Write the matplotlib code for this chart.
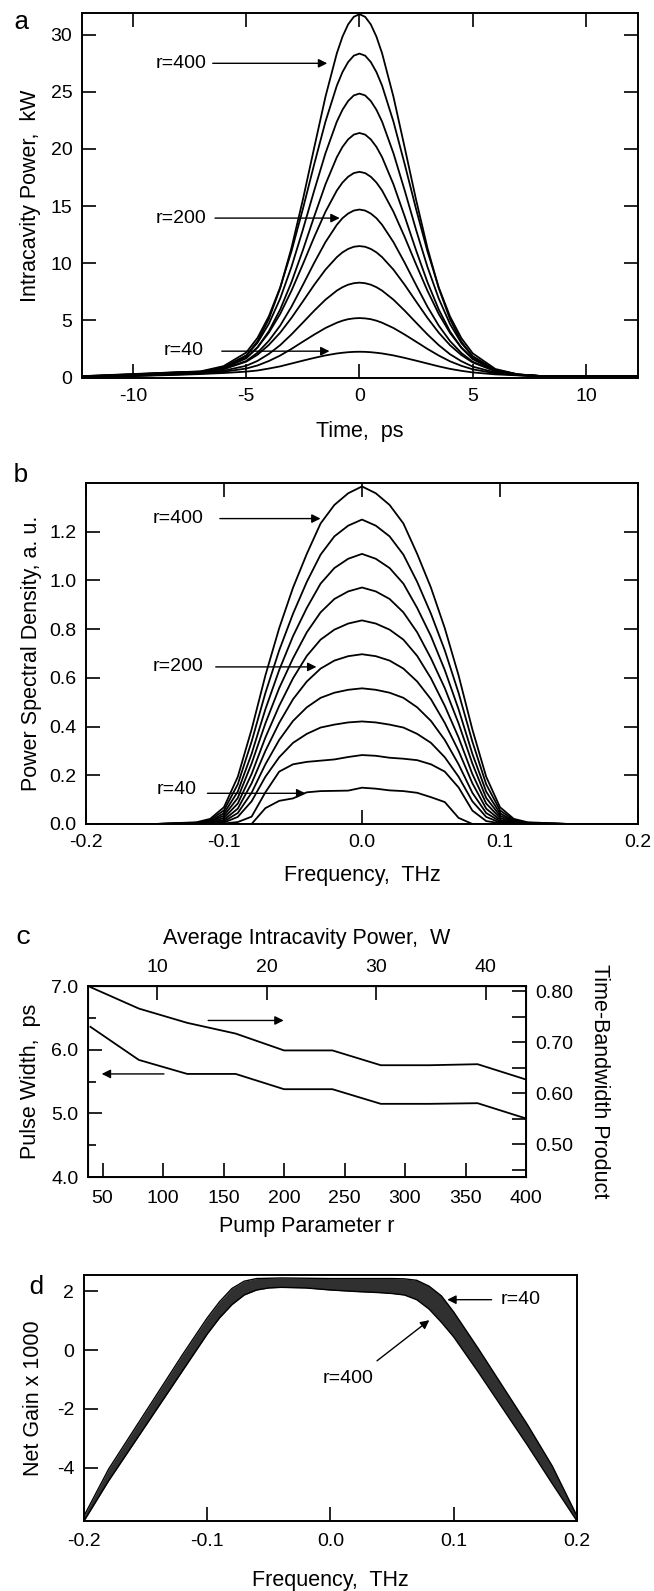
import numpy as np
import matplotlib
matplotlib.use("Agg")
import matplotlib.pyplot as plt

plt.rcParams['font.family'] = ['Liberation Sans', 'DejaVu Sans']
plt.rcParams['font.size'] = 14
plt.rcParams['axes.labelsize'] = 15.5
plt.rcParams['axes.unicode_minus'] = False

# ---------------- panel a: intracavity power vs time ----------------
time_ps = [-12.3, -10, -8, -7, -6, -5, -4.5, -4, -3.5, -3, -2.5, -2, -1.5, -1, -0.75, -0.5, -0.25, 0,
           0.25, 0.5, 0.75, 1, 1.5, 2, 2.5, 3, 3.5, 4, 4.5, 5, 6, 7, 8, 10, 12.3]
power_r40 = [0.02, 0.12, 0.23, 0.30, 0.39, 0.51, 0.61, 0.78, 0.97, 1.22, 1.47, 1.71, 1.93, 2.10, 2.16, 2.21, 2.24, 2.25,
             2.24, 2.21, 2.16, 2.10, 1.93, 1.71, 1.47, 1.22, 0.97, 0.75, 0.58, 0.44, 0.27, 0.18, 0.12, 0.10, 0.08]
power_r80 = [0.03, 0.14, 0.27, 0.35, 0.50, 0.78, 1.05, 1.44, 1.92, 2.50, 3.13, 3.75, 4.33, 4.79, 4.97, 5.10, 5.17, 5.20,
             5.17, 5.10, 4.97, 4.79, 4.33, 3.75, 3.13, 2.50, 1.92, 1.41, 1.02, 0.71, 0.36, 0.20, 0.12, 0.10, 0.08]
power_r120 = [0.04, 0.16, 0.31, 0.38, 0.59, 1.02, 1.45, 2.06, 2.83, 3.77, 4.80, 5.84, 6.81, 7.60, 7.90, 8.12, 8.25, 8.30,
              8.25, 8.12, 7.90, 7.60, 6.81, 5.84, 4.80, 3.77, 2.83, 2.03, 1.42, 0.95, 0.43, 0.21, 0.12, 0.11, 0.09]
power_r160 = [0.05, 0.18, 0.34, 0.44, 0.73, 1.38, 1.99, 2.85, 3.92, 5.22, 6.65, 8.10, 9.44, 10.53, 10.95, 11.25, 11.44, 11.50,
              11.44, 11.25, 10.95, 10.53, 9.44, 8.10, 6.65, 5.22, 3.92, 2.82, 1.96, 1.31, 0.56, 0.26, 0.13, 0.11, 0.09]
power_r200 = [0.06, 0.20, 0.36, 0.44, 0.74, 1.44, 2.17, 3.21, 4.54, 6.20, 8.09, 10.03, 11.85, 13.36, 13.94, 14.35, 14.61, 14.70,
              14.61, 14.35, 13.94, 13.36, 11.85, 10.03, 8.09, 6.20, 4.54, 3.18, 2.14, 1.37, 0.55, 0.235, 0.12, 0.12, 0.10]
power_r240 = [0.07, 0.22, 0.40, 0.49, 0.86, 1.74, 2.64, 3.92, 5.56, 7.60, 9.90, 12.28, 14.51, 16.36, 17.06, 17.57, 17.89, 18.00,
              17.89, 17.57, 17.06, 16.36, 14.51, 12.28, 9.90, 7.60, 5.56, 3.89, 2.61, 1.67, 0.66, 0.265, 0.13, 0.12, 0.10]
power_r280 = [0.08, 0.24, 0.41, 0.47, 0.80, 1.67, 2.63, 4.05, 5.95, 8.35, 11.13, 14.08, 16.91, 19.28, 20.18, 20.84, 21.26, 21.40,
              21.26, 20.84, 20.18, 19.28, 16.91, 14.08, 11.13, 8.35, 5.95, 4.02, 2.60, 1.60, 0.58, 0.23, 0.12, 0.12, 0.10]
power_r320 = [0.09, 0.26, 0.43, 0.50, 0.89, 1.92, 3.04, 4.70, 6.91, 9.69, 12.92, 16.35, 19.63, 22.39, 23.43, 24.20, 24.69, 24.85,
              24.69, 24.20, 23.43, 22.39, 19.63, 16.35, 12.92, 9.69, 6.91, 4.67, 3.01, 1.85, 0.66, 0.25, 0.12, 0.13, 0.11]
power_r360 = [0.10, 0.28, 0.45, 0.54, 0.99, 2.18, 3.47, 5.36, 7.88, 11.06, 14.74, 18.65, 22.40, 25.54, 26.73, 27.61, 28.17, 28.35,
              28.17, 27.61, 26.73, 25.54, 22.40, 18.65, 14.74, 11.06, 7.88, 5.33, 3.44, 2.11, 0.74, 0.27, 0.12, 0.13, 0.11]
power_r400 = [0.11, 0.30, 0.46, 0.50, 0.86, 1.91, 3.17, 5.12, 7.82, 11.35, 15.55, 20.10, 24.58, 28.37, 29.83, 30.91, 31.57, 31.80,
              31.57, 30.91, 29.83, 28.37, 24.58, 20.10, 15.55, 11.35, 7.82, 5.09, 3.14, 1.84, 0.59, 0.21, 0.11, 0.13, 0.11]

# ---------------- panel b: power spectral density ----------------
freq_b = [-0.2, -0.15, -0.12, -0.11, -0.1, -0.09, -0.08, -0.07, -0.06, -0.05, -0.04, -0.03, -0.02, -0.01, 0,
          0.01, 0.02, 0.03, 0.04, 0.05, 0.06, 0.07, 0.08, 0.09, 0.1, 0.11, 0.12, 0.15, 0.2]
psd_r40 = [0, 0, 0, 0, 0, 0, 0.0, 0.065, 0.095, 0.105, 0.13, 0.135, 0.136, 0.137, 0.149,
           0.145, 0.138, 0.135, 0.128, 0.11, 0.09, 0.025, 0.0, 0, 0, 0, 0, 0, 0]
psd_r80 = [0, 0, 0, 0, 0.002, 0.008, 0.03, 0.13, 0.215, 0.245, 0.255, 0.26, 0.265, 0.275, 0.283,
           0.28, 0.272, 0.268, 0.262, 0.245, 0.215, 0.15, 0.055, 0.012, 0.003, 0, 0, 0, 0]
psd_r120 = [0, 0, 0, 0.001, 0.006, 0.029, 0.093, 0.194, 0.274, 0.333, 0.370, 0.396, 0.408, 0.417, 0.421,
            0.417, 0.408, 0.396, 0.370, 0.333, 0.274, 0.194, 0.093, 0.029, 0.006, 0.001, 0, 0, 0]
psd_r160 = [0, 0, 0, 0.002, 0.011, 0.045, 0.128, 0.245, 0.345, 0.423, 0.479, 0.518, 0.539, 0.551, 0.557,
            0.551, 0.539, 0.518, 0.479, 0.423, 0.345, 0.245, 0.128, 0.045, 0.011, 0.002, 0, 0, 0]
psd_r200 = [0, 0, 0.001, 0.004, 0.017, 0.063, 0.167, 0.300, 0.415, 0.512, 0.585, 0.638, 0.671, 0.689, 0.697,
            0.689, 0.671, 0.638, 0.585, 0.512, 0.415, 0.300, 0.167, 0.063, 0.017, 0.004, 0.001, 0, 0]
psd_r240 = [0, 0, 0.002, 0.007, 0.025, 0.084, 0.205, 0.355, 0.485, 0.598, 0.690, 0.757, 0.798, 0.823, 0.836,
            0.823, 0.798, 0.757, 0.690, 0.598, 0.485, 0.355, 0.205, 0.084, 0.025, 0.007, 0.002, 0, 0]
psd_r280 = [0, 0, 0.003, 0.010, 0.034, 0.107, 0.248, 0.413, 0.558, 0.680, 0.787, 0.869, 0.924, 0.955, 0.971,
            0.955, 0.924, 0.869, 0.787, 0.680, 0.558, 0.413, 0.248, 0.107, 0.034, 0.010, 0.003, 0, 0]
psd_r320 = [0, 0, 0.003, 0.012, 0.044, 0.133, 0.288, 0.471, 0.632, 0.771, 0.887, 0.987, 1.051, 1.089, 1.109,
            1.089, 1.051, 0.987, 0.887, 0.771, 0.632, 0.471, 0.288, 0.133, 0.044, 0.012, 0.003, 0, 0]
psd_r360 = [0, 0, 0.005, 0.016, 0.056, 0.163, 0.338, 0.538, 0.713, 0.863, 0.994, 1.106, 1.181, 1.225, 1.250,
            1.225, 1.181, 1.106, 0.994, 0.863, 0.713, 0.538, 0.338, 0.163, 0.056, 0.016, 0.005, 0, 0]
psd_r400 = [0, 0, 0.007, 0.021, 0.069, 0.194, 0.388, 0.610, 0.804, 0.970, 1.109, 1.234, 1.310, 1.358, 1.386,
            1.358, 1.310, 1.234, 1.109, 0.970, 0.804, 0.610, 0.388, 0.194, 0.069, 0.021, 0.007, 0, 0]

# ---------------- panel c: pulse width and time-bandwidth product ----------------
pump_r = [40, 80, 120, 160, 200, 240, 280, 320, 360, 400]
pulse_width = [6.36, 5.84, 5.62, 5.62, 5.38, 5.38, 5.15, 5.15, 5.16, 4.92]
tbp = [0.808, 0.766, 0.738, 0.717, 0.684, 0.684, 0.655, 0.655, 0.657, 0.627]

# ---------------- panel d: net gain band ----------------
freq_d = [-0.2, -0.18, -0.16, -0.14, -0.12, -0.10, -0.09, -0.08, -0.07, -0.06, -0.05, -0.04, -0.02, 0.0,
          0.02, 0.04, 0.05, 0.06, 0.07, 0.08, 0.09, 0.10, 0.12, 0.14, 0.16, 0.18, 0.2]
gain_r40 = [-5.65, -4.05, -2.75, -1.45, -0.15, 1.10, 1.65, 2.10, 2.35, 2.44, 2.45, 2.46, 2.45, 2.44,
            2.44, 2.44, 2.44, 2.43, 2.38, 2.18, 1.85, 1.30, 0.05, -1.25, -2.55, -3.95, -5.65]
gain_r400 = [-5.82, -4.45, -3.20, -1.95, -0.70, 0.55, 1.10, 1.55, 1.88, 2.05, 2.12, 2.14, 2.12, 2.05,
             2.00, 1.96, 1.93, 1.88, 1.72, 1.40, 0.95, 0.45, -0.75, -2.00, -3.25, -4.55, -5.82]

arrow = dict(arrowstyle='-|>', color='k', lw=1.0, mutation_scale=13)

fig = plt.figure(figsize=(6.54, 15.91), dpi=100)


def style(ax, top=True, right=True, pad=7):
    ax.tick_params(direction='in', length=10, width=1.2, top=top, right=right, pad=pad)
    for s in ax.spines.values():
        s.set_linewidth(1.4)


# ---- a ----
axa = fig.add_axes([0.1254, 0.7624, 0.8502, 0.2294])
for p in [power_r40, power_r80, power_r120, power_r160, power_r200,
          power_r240, power_r280, power_r320, power_r360, power_r400]:
    axa.plot(time_ps, p, color='k', lw=1.3)
axa.set_xlim(-12.25, 12.3)
axa.set_ylim(-0.05, 31.9)
axa.set_xticks([-10, -5, 0, 5, 10])
axa.set_yticks([0, 5, 10, 15, 20, 25, 30])
style(axa)
axa.set_xlabel('Time,  ps', labelpad=12)
axa.set_ylabel('Intracavity Power,  kW', labelpad=7)
axa.annotate('', xy=(-1.3, 27.5), xytext=(-6.6, 27.5), arrowprops=arrow)
axa.text(-6.75, 27.5, 'r=400', ha='right', va='center')
axa.annotate('', xy=(-0.75, 13.95), xytext=(-6.5, 13.95), arrowprops=arrow)
axa.text(-6.75, 13.95, 'r=200', ha='right', va='center')
axa.annotate('', xy=(-1.2, 2.3), xytext=(-6.2, 2.3), arrowprops=arrow)
axa.text(-6.9, 2.4, 'r=40', ha='right', va='center')
fig.text(0.032, 0.986, 'a', family='Liberation Mono', fontsize=19, va='center', ha='center')

# ---- b ----
axb = fig.add_axes([0.1315, 0.4821, 0.8440, 0.2143])
for p in [psd_r40, psd_r80, psd_r120, psd_r160, psd_r200,
          psd_r240, psd_r280, psd_r320, psd_r360, psd_r400]:
    axb.plot(freq_b, p, color='k', lw=1.3)
axb.set_xlim(-0.2, 0.2)
axb.set_ylim(0, 1.4)
axb.set_xticks([-0.2, -0.1, 0.0, 0.1, 0.2])
axb.set_xticklabels(['-0.2', '-0.1', '0.0', '0.1', '0.2'])
axb.set_yticks([0.0, 0.2, 0.4, 0.6, 0.8, 1.0, 1.2])
axb.set_yticklabels(['0.0', '0.2', '0.4', '0.6', '0.8', '1.0', '1.2'])
style(axb)
axb.set_xlabel('Frequency,  THz', labelpad=10)
axb.set_ylabel('Power Spectral Density, a. u.', labelpad=5)
axb.annotate('', xy=(-0.028, 1.254), xytext=(-0.105, 1.254), arrowprops=arrow)
axb.text(-0.115, 1.254, 'r=400', ha='right', va='center')
axb.annotate('', xy=(-0.031, 0.645), xytext=(-0.108, 0.645), arrowprops=arrow)
axb.text(-0.115, 0.645, 'r=200', ha='right', va='center')
axb.annotate('', xy=(-0.039, 0.126), xytext=(-0.114, 0.126), arrowprops=arrow)
axb.text(-0.12, 0.14, 'r=40', ha='right', va='center')
fig.text(0.032, 0.7015, 'b', family='Liberation Mono', fontsize=19, va='center', ha='center')

# ---- c ----
axc = fig.add_axes([0.1346, 0.2602, 0.6697, 0.1200])
axc.plot(pump_r, pulse_width, color='k', lw=1.3)
axc.set_xlim(38, 400)
axc.set_ylim(4.0, 7.0)
axc.set_xticks([50, 100, 150, 200, 250, 300, 350, 400])
axc.set_yticks([4.0, 5.0, 6.0, 7.0])
axc.set_yticklabels(['4.0', '5.0', '6.0', '7.0'])
axc.set_yticks([4.5, 5.5, 6.5], minor=True)
axc.tick_params(direction='in', length=10, width=1.2, pad=7, top=False, right=False)
axc.tick_params(axis='x', pad=9)
axc.tick_params(which='minor', direction='in', length=6, width=1.2, left=True)
for s in axc.spines.values():
    s.set_linewidth(1.4)
axc.set_xlabel('Pump Parameter r', labelpad=7)
axc.set_ylabel('Pulse Width,  ps', labelpad=7)

axc2 = axc.twinx()
axc2.plot(pump_r, tbp, color='k', lw=1.3)
axc2.set_ylim(0.436, 0.81)
axc2.set_yticks([0.50, 0.60, 0.70, 0.80])
axc2.set_yticklabels(['0.50', '0.60', '0.70', '0.80'])
axc2.set_yticks([0.45, 0.55, 0.65, 0.75], minor=True)
axc2.tick_params(which='both', direction='in', length=10, width=1.2, pad=7)
axc2.set_ylabel('Time-Bandwidth Product', rotation=270, labelpad=26)

top = axc.secondary_xaxis('top', functions=(lambda r: (r - 4.4) / 9.06,
                                            lambda w: w * 9.06 + 4.4))
top.set_xticks([10, 20, 30, 40])
top.tick_params(direction='in', length=10, width=1.2, pad=7)
top.set_xlabel('Average Intracavity Power,  W', labelpad=11)

axc.annotate('', xy=(202, 6.46), xytext=(135, 6.46), arrowprops=arrow)
axc.annotate('', xy=(47, 5.62), xytext=(103, 5.62), arrowprops=arrow)
fig.text(0.036, 0.411, 'c', family='Liberation Mono', fontsize=19, va='center', ha='center')

# ---- d ----
axd = fig.add_axes([0.1284, 0.0440, 0.7538, 0.1546])
axd.fill_between(freq_d, gain_r400, gain_r40, color='#303030', lw=0)
axd.plot(freq_d, gain_r40, color='k', lw=1.0)
axd.plot(freq_d, gain_r400, color='k', lw=1.0)
axd.set_xlim(-0.2, 0.2)
axd.set_ylim(-5.82, 2.56)
axd.set_xticks([-0.2, -0.1, 0.0, 0.1, 0.2])
axd.set_xticklabels(['-0.2', '-0.1', '0.0', '0.1', '0.2'])
axd.set_yticks([-4, -2, 0, 2])
style(axd, top=False, right=False)
axd.tick_params(axis='x', pad=9)
axd.set_xlabel('Frequency,  THz', labelpad=14)
axd.set_ylabel('Net Gain x 1000', labelpad=9)
axd.annotate('', xy=(0.0925, 1.72), xytext=(0.133, 1.72), arrowprops=arrow)
axd.text(0.138, 1.72, 'r=40', ha='left', va='center')
axd.annotate('', xy=(0.082, 1.08), xytext=(0.036, -0.42), arrowprops=arrow)
axd.text(0.014, -0.98, 'r=400', ha='center', va='center')
fig.text(0.055, 0.191, 'd', family='Liberation Mono', fontsize=19, va='center', ha='center')

fig.savefig('out.png', dpi=100)
